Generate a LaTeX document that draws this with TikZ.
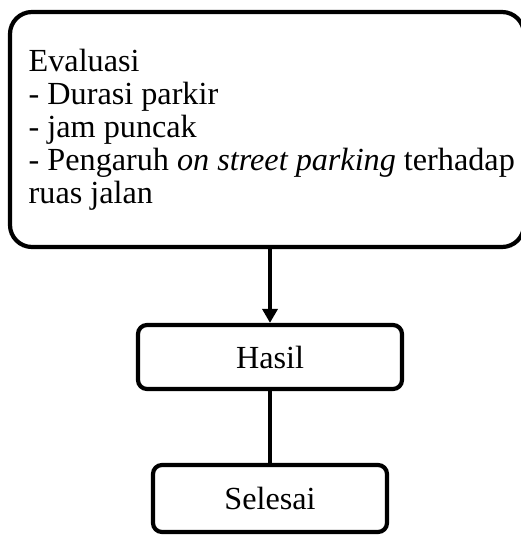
\documentclass[tikz,border=0pt]{standalone}
\usepackage{fontspec}
\setmainfont{Liberation Serif}
\usetikzlibrary{arrows.meta}
\begin{document}
\begin{tikzpicture}[x=1pt,y=1pt,
  box/.style={draw=black, line width=4.2pt, fill=white, rounded corners=#1},
  box/.default=9pt,
  conn/.style={draw=black, line width=4.2pt},
  txt/.style={font=\fontsize{32.2}{33}\selectfont, inner sep=0pt}]
\useasboundingbox (0,0) rectangle (521,536);
\node[box=22pt, minimum width=514pt, minimum height=235pt] (eval) at (267,406.5) {};
\node[txt, anchor=base west, align=left] (evaltext) at (28.5,332.7)
  {Evaluasi\\- Durasi parkir\\- jam puncak\\- Pengaruh \textit{on street parking} terhadap\\ruas jalan};
\node[box, txt, minimum width=264pt, minimum height=64pt] (hasil) at (270,179) {Hasil};
\node[box, txt, minimum width=234pt, minimum height=67pt] (selesai) at (270,37.5) {Selesai};
\draw[conn, -{Triangle[length=14pt,width=15pt]}] (eval.south -| hasil.north) -- (hasil.north);
\draw[conn] (hasil.south) -- (selesai.north);
\end{tikzpicture}
\end{document}
